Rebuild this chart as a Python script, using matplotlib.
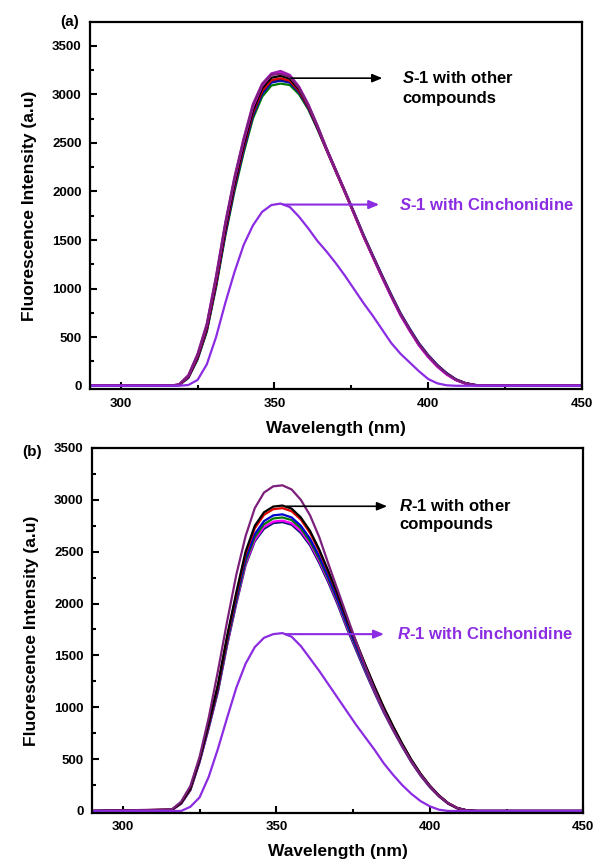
import matplotlib
matplotlib.use("Agg")
import matplotlib.pyplot as plt
from matplotlib.ticker import MultipleLocator

plt.rcParams['font.family'] = ['Liberation Sans', 'DejaVu Sans']
plt.rcParams['font.weight'] = 'bold'
plt.rcParams['mathtext.fontset'] = 'custom'
plt.rcParams['mathtext.it'] = 'Liberation Sans:italic:bold'
plt.rcParams['mathtext.rm'] = 'Liberation Sans:bold'

# wavelength grid (nm), shared by all curves
wl = [290, 316, 319, 322, 325, 328, 331, 334, 337, 340, 343, 346, 349, 352, 355, 358, 361,
      364, 367, 370, 373, 376, 379, 382, 385, 388, 391, 394, 397, 400, 403, 406, 409, 412,
      415, 418, 450]

# (a) S-1 with other compounds
a_green = [0, 0, 8, 80, 270, 555, 1010, 1540, 2000, 2400, 2750, 2975, 3090, 3110, 3095, 3000, 2845,
           2640, 2420, 2200, 1985, 1765, 1540, 1330, 1125, 925, 735, 575, 425, 305, 205, 125, 62, 26, 8, 0, 0]
a_blue = [0, 0, 8, 85, 280, 570, 1030, 1560, 2030, 2430, 2780, 3005, 3120, 3140, 3120, 3020, 2860,
          2650, 2425, 2205, 1990, 1770, 1545, 1335, 1130, 930, 740, 580, 430, 310, 210, 128, 65, 28, 9, 0, 0]
a_navy = [0, 0, 9, 88, 285, 575, 1040, 1575, 2045, 2445, 2795, 3020, 3130, 3150, 3130, 3030, 2870,
          2660, 2435, 2215, 2000, 1780, 1555, 1345, 1140, 940, 750, 590, 440, 318, 215, 132, 68, 30, 10, 0, 0]
a_red = [0, 0, 10, 90, 290, 585, 1050, 1590, 2060, 2460, 2810, 3035, 3145, 3165, 3140, 3035, 2870,
         2655, 2425, 2205, 1985, 1760, 1535, 1325, 1120, 920, 730, 570, 420, 300, 200, 120, 60, 25, 8, 0, 0]
a_black = [0, 0, 10, 95, 300, 600, 1070, 1610, 2080, 2480, 2830, 3060, 3170, 3190, 3160, 3050, 2880,
           2660, 2430, 2210, 1990, 1765, 1540, 1330, 1125, 925, 735, 575, 425, 305, 205, 125, 62, 26, 8, 0, 0]
a_magenta = [0, 0, 12, 100, 315, 620, 1100, 1650, 2120, 2520, 2870, 3090, 3200, 3225, 3185, 3070, 2890,
             2670, 2430, 2210, 1990, 1760, 1535, 1325, 1115, 915, 725, 565, 415, 295, 195, 115, 58, 22, 6, 0, 0]
a_purple = [0, 0, 15, 110, 330, 640, 1130, 1680, 2150, 2550, 2900, 3110, 3215, 3240, 3200, 3080, 2900,
            2680, 2440, 2220, 2000, 1770, 1540, 1330, 1120, 920, 730, 570, 420, 300, 200, 120, 60, 25, 8, 0, 0]
a_darkpurple = [0, 0, 14, 105, 320, 630, 1115, 1665, 2135, 2535, 2885, 3100, 3200, 3210, 3180, 3065, 2890,
                2675, 2440, 2220, 2000, 1770, 1545, 1335, 1130, 930, 740, 580, 430, 310, 208, 125, 63, 26, 8, 0, 0]
# (a) S-1 with Cinchonidine
a_cinch = [0, 0, 0, 8, 60, 220, 500, 850, 1170, 1450, 1650, 1790, 1860, 1875, 1840, 1740, 1620,
           1490, 1380, 1260, 1130, 990, 850, 720, 580, 440, 330, 240, 150, 70, 25, 5, 0, 0, 0, 0, 0]

# (b) R-1 with other compounds
b_navy = [0, 10, 70, 200, 470, 800, 1150, 1600, 2000, 2370, 2600, 2720, 2775, 2785, 2760, 2680, 2560,
          2390, 2200, 1990, 1760, 1550, 1340, 1140, 950, 780, 620, 470, 340, 230, 140, 70, 25, 5, 0, 0, 0]
b_magenta = [0, 10, 72, 202, 475, 805, 1160, 1610, 2015, 2385, 2615, 2740, 2790, 2800, 2775, 2700, 2580,
             2410, 2220, 2010, 1780, 1570, 1360, 1155, 962, 790, 628, 476, 345, 234, 142, 71, 26, 5, 0, 0, 0]
b_green = [0, 11, 73, 205, 480, 815, 1170, 1625, 2030, 2405, 2640, 2765, 2820, 2830, 2805, 2725, 2600,
           2430, 2235, 2025, 1795, 1580, 1370, 1165, 970, 795, 632, 480, 348, 236, 144, 72, 26, 6, 0, 0, 0]
b_blue = [0, 11, 75, 210, 485, 825, 1185, 1645, 2055, 2435, 2670, 2795, 2850, 2860, 2830, 2750, 2625,
          2455, 2255, 2040, 1810, 1595, 1380, 1175, 980, 805, 640, 485, 352, 240, 146, 73, 27, 6, 0, 0, 0]
b_red = [0, 12, 78, 215, 495, 840, 1205, 1670, 2090, 2480, 2725, 2855, 2910, 2920, 2890, 2810, 2680,
         2505, 2300, 2080, 1845, 1625, 1405, 1195, 995, 815, 645, 490, 355, 242, 148, 74, 27, 6, 0, 0, 0]
b_black = [0, 12, 80, 220, 500, 850, 1220, 1690, 2110, 2500, 2750, 2880, 2935, 2945, 2915, 2830, 2700,
           2520, 2310, 2090, 1850, 1630, 1410, 1200, 1000, 820, 650, 495, 360, 245, 150, 75, 28, 6, 0, 0, 0]
b_darkpurple = [0, 15, 90, 240, 520, 900, 1350, 1830, 2280, 2650, 2920, 3070, 3130, 3140, 3100, 3000, 2850,
                2640, 2380, 2130, 1880, 1630, 1390, 1170, 970, 790, 630, 480, 350, 240, 145, 75, 28, 6, 0, 0, 0]
# (b) R-1 with Cinchonidine
b_cinch = [0, 0, 0, 40, 130, 330, 600, 900, 1190, 1420, 1580, 1670, 1705, 1715, 1680, 1590, 1470,
           1350, 1220, 1090, 960, 830, 710, 590, 460, 350, 250, 165, 95, 45, 12, 0, 0, 0, 0, 0, 0]

cinch_color = '#8b2be2'

fig = plt.figure(figsize=(5.94, 8.61), dpi=100)
ax1 = fig.add_axes([0.1515, 0.548, 0.828, 0.426])
ax2 = fig.add_axes([0.155, 0.0557, 0.827, 0.424])

curves_a = [(a_green, '#007a00'), (a_blue, '#0000d0'), (a_navy, '#15157a'), (a_red, '#e00000'),
            (a_black, 'black'), (a_magenta, '#ff00ff'), (a_purple, '#9a1ab0'), (a_darkpurple, '#7b1f7b')]
curves_b = [(b_navy, '#15157a'), (b_magenta, '#ff00ff'), (b_green, '#007a00'), (b_blue, '#0000d0'),
            (b_red, '#e00000'), (b_black, 'black'), (b_darkpurple, '#7b1f7b')]

for ys, c in curves_a:
    ax1.plot(wl, ys, color=c, lw=1.6)
ax1.plot(wl, a_cinch, color=cinch_color, lw=1.6)

for ys, c in curves_b:
    ax2.plot(wl, ys, color=c, lw=1.6)
ax2.plot(wl, b_cinch, color=cinch_color, lw=1.6)

for ax in (ax1, ax2):
    ax.set_xlim(290, 450)
    ax.xaxis.set_major_locator(MultipleLocator(50))
    ax.xaxis.set_minor_locator(MultipleLocator(25))
    ax.yaxis.set_major_locator(MultipleLocator(500))
    ax.yaxis.set_minor_locator(MultipleLocator(250))
    ax.tick_params(which='both', direction='in', top=False, right=False, width=1.5, labelsize=9.5, pad=6)
    ax.tick_params(which='major', length=5)
    ax.tick_params(which='minor', length=3)
    for s in ax.spines.values():
        s.set_linewidth(1.6)
    ax.set_xlabel('Wavelength (nm)', fontsize=12.5, fontweight='bold', labelpad=8)
    ax.set_ylabel('Fluorescence Intensity (a.u)', fontsize=12.5, fontweight='bold', labelpad=11)

ax1.set_ylim(-35, 3740)
ax2.set_ylim(-20, 3500)

arrow_k = dict(arrowstyle='-|>,head_length=0.6,head_width=0.25', color='black', lw=1.2)
arrow_p = dict(arrowstyle='-|>,head_length=0.6,head_width=0.25', color=cinch_color, lw=1.5)

# (a) annotations
ax1.annotate('', xy=(386, 3166), xytext=(354.5, 3166), arrowprops=arrow_k)
ax1.text(391.5, 3166, r'$\mathit{S}$-1 with other', fontsize=12, va='center', ha='left')
ax1.text(391.5, 2961, 'compounds', fontsize=12, va='center', ha='left')
ax1.annotate('', xy=(385, 1865), xytext=(352, 1865), arrowprops=arrow_p)
ax1.text(390.5, 1865, r'$\mathit{S}$-1 with Cinchonidine', fontsize=12, va='center', ha='left',
         color=cinch_color)

# (b) annotations
ax2.annotate('', xy=(387, 2938), xytext=(352.5, 2938), arrowprops=arrow_k)
ax2.text(390, 2938, r'$\mathit{R}$-1 with other', fontsize=12, va='center', ha='left')
ax2.text(390, 2765, 'compounds', fontsize=12, va='center', ha='left')
ax2.annotate('', xy=(386, 1705), xytext=(352, 1705), arrowprops=arrow_p)
ax2.text(389.4, 1705, r'$\mathit{R}$-1 with Cinchonidine', fontsize=12, va='center', ha='left',
         color=cinch_color)

fig.text(70 / 594, 1 - 22 / 861, '(a)', fontsize=11, fontweight='bold', ha='center', va='center')
fig.text(32 / 594, 1 - 452 / 861, '(b)', fontsize=11, fontweight='bold', ha='center', va='center')

fig.savefig('out.png', dpi=100)
